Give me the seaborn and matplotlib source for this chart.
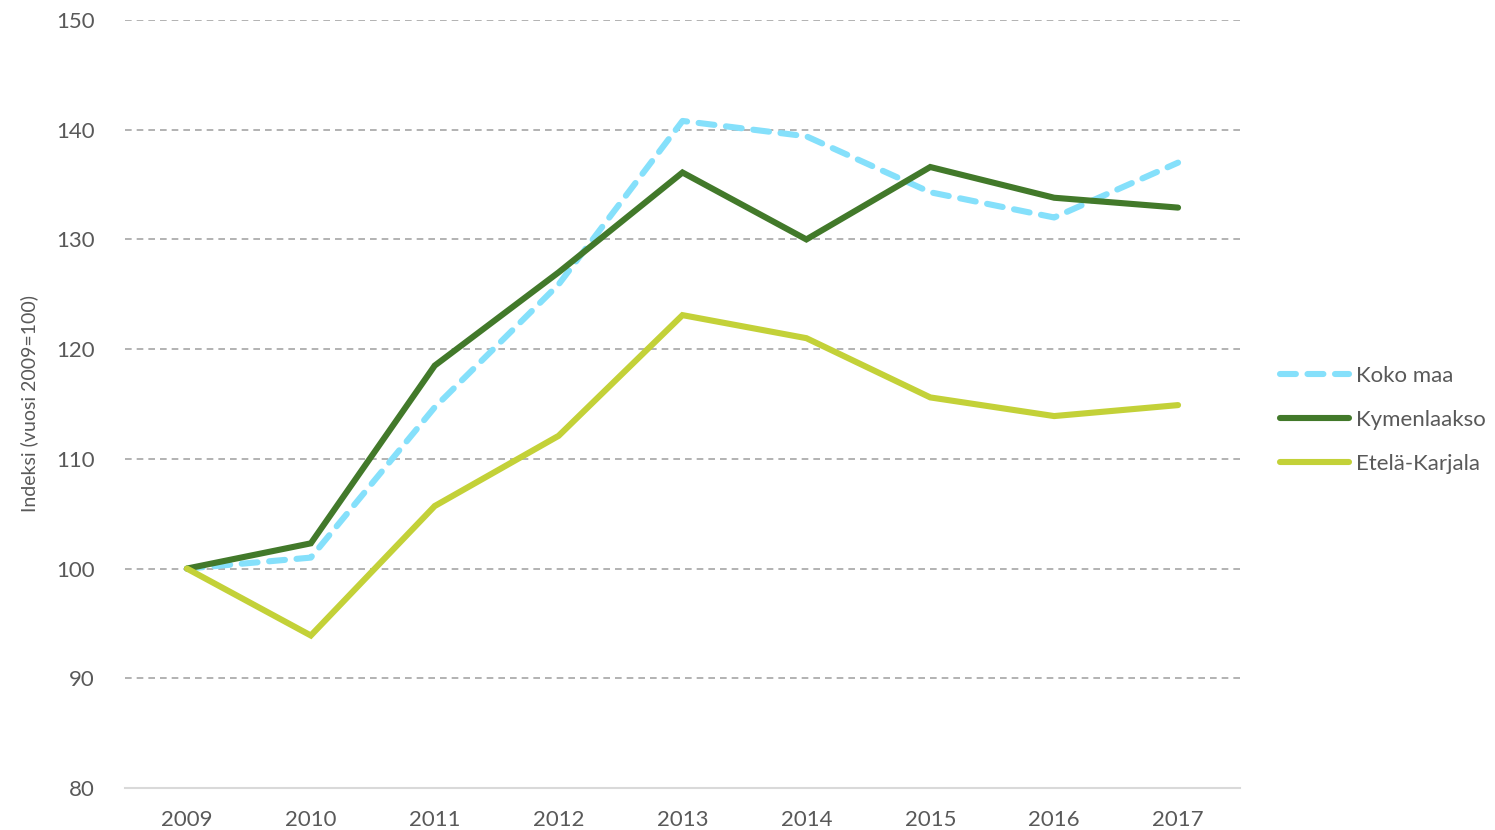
import pandas as pd
import numpy as np
import seaborn as sns
import matplotlib.pyplot as plt

# Index chart (2009=100) for the whole country and two regions

years = ["2009", "2010", "2011", "2012", "2013", "2014", "2015", "2016", "2017"]
koko_maa = [100, 101.0, 114.7, 125.9, 140.8, 139.4, 134.3, 132.0, 137.0]
kymenlaakso = [100, 102.3, 118.5, 127.0, 136.1, 130.0, 136.6, 133.8, 132.9]
etela_karjala = [100, 93.9, 105.7, 112.1, 123.1, 121.0, 115.6, 113.9, 114.9]

series_names = ["Koko maa", "Kymenlaakso", "Etelä-Karjala"]
colors = ["#85e0fb", "#42792a", "#c3d138"]

df = pd.DataFrame({"vuosi": years * 3,
                   "indeksi": koko_maa + kymenlaakso + etela_karjala,
                   "alue": np.repeat(series_names, len(years))})
df["x"] = df["vuosi"].map({y: i for i, y in enumerate(years)})

sns.set_style("white")
plt.rcParams["font.family"] = ["Lato", "DejaVu Sans"]
text_color = "#595959"
lw = 4.4

fig = plt.figure(figsize=(14.95, 8.30), dpi=100)
ax = fig.add_axes([125 / 1495, 42 / 830, 1115 / 1495, 768 / 830])

sns.lineplot(data=df, x="x", y="indeksi", hue="alue", style="alue",
             hue_order=series_names, palette=colors,
             dashes={"Koko maa": (2.6, 1.9), "Kymenlaakso": "", "Etelä-Karjala": ""},
             linewidth=lw, ax=ax, legend=False, zorder=3)
for line in ax.get_lines():
    line.set_solid_capstyle("round")
    line.set_dash_capstyle("round")
    line.set_solid_joinstyle("miter")

ax.set_xlim(-0.5, len(years) - 0.5)
ax.set_ylim(80, 150)
ax.set_yticks(range(80, 151, 10))
ax.set_xticks(range(len(years)))
ax.set_xticklabels(years)
ax.yaxis.grid(True, color="#a6a6a6", linestyle=(0, (4, 3)), linewidth=1.2)
ax.xaxis.grid(False)
for s in ["top", "right", "left"]:
    ax.spines[s].set_visible(False)
ax.spines["bottom"].set_color("#d9d9d9")
ax.spines["bottom"].set_linewidth(1.5)
ax.tick_params(axis="both", length=0, labelsize=16, colors=text_color)
ax.tick_params(axis="x", pad=16)
ax.tick_params(axis="y", pad=22)
ax.set_xlabel("")
ax.set_ylabel("Indeksi (vuosi 2009=100)", fontsize=14, color=text_color, labelpad=13)

handles = [plt.Line2D([], [], color=colors[0], lw=lw, dashes=(2.6, 1.9), dash_capstyle="round"),
           plt.Line2D([], [], color=colors[1], lw=lw, solid_capstyle="round"),
           plt.Line2D([], [], color=colors[2], lw=lw, solid_capstyle="round")]
leg = fig.legend(handles, series_names, loc="center left", bbox_to_anchor=(1280 / 1495, 1 - 420 / 830),
                 frameon=False, fontsize=16, handlelength=3.1, handletextpad=0.3,
                 labelspacing=1.08, borderpad=0, borderaxespad=0)
for t in leg.get_texts():
    t.set_color(text_color)

fig.savefig("out.png", dpi=100)
